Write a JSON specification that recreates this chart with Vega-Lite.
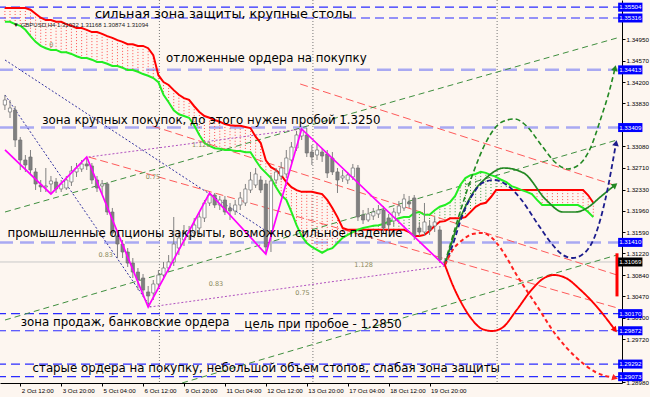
{
  "$schema": "https://vega.github.io/schema/vega-lite/v6.json",
  "width": 622,
  "height": 383,
  "autosize": {"type": "none"},
  "padding": {"left": 0, "top": 0, "right": 28, "bottom": 14},
  "background": "#fdf6f0",
  "config": {
    "view": {"stroke": null},
    "font": "DejaVu Sans",
    "axis": {"labelFont": "Liberation Sans", "labelColor": "#000000", "tickSize": 3, "tickColor": "#000000", "domainColor": "#000000", "grid": false, "labelFlush": false, "labelOverlap": false, "labelBound": false, "labelPadding": 1},
    "axisX": {"labelAlign": "left", "labelOffset": 1, "labelFontSize": 6.2},
    "axisY": {"labelFontSize": 6.2}
  },
  "datasets": {
    "candles": [
      {"i":-3,"o":1.33801,"h":1.33976,"l":1.33714,"c":1.33889},
      {"i":-2,"o":1.33680,"h":1.33889,"l":1.33575,"c":1.33749},
      {"i":-1,"o":1.33714,"h":1.33784,"l":1.33070,"c":1.33192},
      {"i":0,"o":1.33192,"h":1.33245,"l":1.32670,"c":1.32844},
      {"i":1,"o":1.32844,"h":1.32931,"l":1.32636,"c":1.32757},
      {"i":2,"o":1.32896,"h":1.33018,"l":1.32601,"c":1.32670},
      {"i":3,"o":1.32636,"h":1.32705,"l":1.32322,"c":1.32427},
      {"i":4,"o":1.32409,"h":1.32496,"l":1.32287,"c":1.32375},
      {"i":5,"o":1.32375,"h":1.32705,"l":1.32287,"c":1.32392},
      {"i":6,"o":1.32427,"h":1.32566,"l":1.32253,"c":1.32479},
      {"i":7,"o":1.32462,"h":1.32531,"l":1.32270,"c":1.32340},
      {"i":8,"o":1.32340,"h":1.32496,"l":1.32287,"c":1.32427},
      {"i":9,"o":1.32357,"h":1.32566,"l":1.32322,"c":1.32496},
      {"i":10,"o":1.32462,"h":1.32740,"l":1.32392,"c":1.32653},
      {"i":11,"o":1.32636,"h":1.32792,"l":1.32549,"c":1.32705},
      {"i":12,"o":1.32688,"h":1.32844,"l":1.32636,"c":1.32775},
      {"i":13,"o":1.32775,"h":1.32896,"l":1.32670,"c":1.32740},
      {"i":14,"o":1.32740,"h":1.32792,"l":1.32427,"c":1.32496},
      {"i":15,"o":1.32496,"h":1.32566,"l":1.32287,"c":1.32357},
      {"i":16,"o":1.32392,"h":1.32496,"l":1.32253,"c":1.32427},
      {"i":17,"o":1.32427,"h":1.32462,"l":1.31887,"c":1.31939},
      {"i":18,"o":1.31939,"h":1.32009,"l":1.31504,"c":1.31574},
      {"i":19,"o":1.31522,"h":1.31591,"l":1.31138,"c":1.31382},
      {"i":20,"o":1.31382,"h":1.31452,"l":1.31138,"c":1.31243},
      {"i":21,"o":1.31243,"h":1.31312,"l":1.30982,"c":1.31051},
      {"i":22,"o":1.31051,"h":1.31138,"l":1.30790,"c":1.30894},
      {"i":23,"o":1.30894,"h":1.30964,"l":1.30581,"c":1.30755},
      {"i":24,"o":1.30790,"h":1.30860,"l":1.30460,"c":1.30581},
      {"i":25,"o":1.30547,"h":1.30651,"l":1.30285,"c":1.30477},
      {"i":26,"o":1.30529,"h":1.30755,"l":1.30407,"c":1.30686},
      {"i":27,"o":1.30686,"h":1.30929,"l":1.30616,"c":1.30842},
      {"i":28,"o":1.30842,"h":1.31069,"l":1.30755,"c":1.30964},
      {"i":29,"o":1.30964,"h":1.31190,"l":1.30894,"c":1.31069},
      {"i":30,"o":1.31069,"h":1.31852,"l":1.30999,"c":1.31382},
      {"i":31,"o":1.31312,"h":1.31626,"l":1.31190,"c":1.31487},
      {"i":32,"o":1.31452,"h":1.31713,"l":1.31347,"c":1.31591},
      {"i":33,"o":1.31522,"h":1.31696,"l":1.31452,"c":1.31574},
      {"i":34,"o":1.31574,"h":1.31835,"l":1.31487,"c":1.31713},
      {"i":35,"o":1.31661,"h":1.31939,"l":1.31539,"c":1.31852},
      {"i":36,"o":1.31835,"h":1.32148,"l":1.31765,"c":1.32096},
      {"i":37,"o":1.32096,"h":1.32270,"l":1.32044,"c":1.32235},
      {"i":38,"o":1.32235,"h":1.32270,"l":1.32009,"c":1.32061},
      {"i":39,"o":1.32061,"h":1.32218,"l":1.31974,"c":1.32148},
      {"i":40,"o":1.32148,"h":1.32218,"l":1.31887,"c":1.31939},
      {"i":41,"o":1.32009,"h":1.32096,"l":1.31800,"c":1.31957},
      {"i":42,"o":1.31957,"h":1.32148,"l":1.31887,"c":1.32061},
      {"i":43,"o":1.32061,"h":1.32287,"l":1.31974,"c":1.32183},
      {"i":44,"o":1.32096,"h":1.32427,"l":1.32044,"c":1.32340},
      {"i":45,"o":1.32322,"h":1.32636,"l":1.32270,"c":1.32496},
      {"i":46,"o":1.32409,"h":1.32705,"l":1.32357,"c":1.32601},
      {"i":47,"o":1.32496,"h":1.32566,"l":1.32270,"c":1.32322},
      {"i":48,"o":1.32427,"h":1.32496,"l":1.31208,"c":1.31330},
      {"i":49,"o":1.31574,"h":1.32583,"l":1.31243,"c":1.32479},
      {"i":50,"o":1.32496,"h":1.32705,"l":1.32427,"c":1.32636},
      {"i":51,"o":1.32566,"h":1.32810,"l":1.32496,"c":1.32705},
      {"i":52,"o":1.32601,"h":1.33018,"l":1.32531,"c":1.32879},
      {"i":53,"o":1.32844,"h":1.33157,"l":1.32792,"c":1.33070},
      {"i":54,"o":1.33053,"h":1.33349,"l":1.33001,"c":1.33280},
      {"i":55,"o":1.33262,"h":1.33384,"l":1.33192,"c":1.33367},
      {"i":56,"o":1.33280,"h":1.33401,"l":1.32896,"c":1.32966},
      {"i":57,"o":1.32983,"h":1.33105,"l":1.32757,"c":1.32896},
      {"i":58,"o":1.32931,"h":1.33139,"l":1.32844,"c":1.33018},
      {"i":59,"o":1.32983,"h":1.33053,"l":1.32810,"c":1.32914},
      {"i":60,"o":1.32949,"h":1.33018,"l":1.32531,"c":1.32618},
      {"i":61,"o":1.32879,"h":1.32983,"l":1.32583,"c":1.32636},
      {"i":62,"o":1.32636,"h":1.32705,"l":1.32270,"c":1.32496},
      {"i":63,"o":1.32531,"h":1.32670,"l":1.32462,"c":1.32566},
      {"i":64,"o":1.32496,"h":1.32636,"l":1.32427,"c":1.32583},
      {"i":65,"o":1.32549,"h":1.32775,"l":1.32496,"c":1.32705},
      {"i":66,"o":1.32705,"h":1.32757,"l":1.31783,"c":1.31852},
      {"i":67,"o":1.31887,"h":1.31974,"l":1.31730,"c":1.31800},
      {"i":68,"o":1.31800,"h":1.32009,"l":1.31765,"c":1.31905},
      {"i":69,"o":1.31870,"h":1.32009,"l":1.31800,"c":1.31939},
      {"i":70,"o":1.31905,"h":1.32061,"l":1.31835,"c":1.31974},
      {"i":71,"o":1.31974,"h":1.32044,"l":1.31556,"c":1.31661},
      {"i":72,"o":1.31835,"h":1.31905,"l":1.31626,"c":1.31713},
      {"i":73,"o":1.31783,"h":1.32009,"l":1.31696,"c":1.31939},
      {"i":74,"o":1.31922,"h":1.32131,"l":1.31870,"c":1.32044},
      {"i":75,"o":1.32009,"h":1.32253,"l":1.31957,"c":1.32166},
      {"i":76,"o":1.32114,"h":1.32218,"l":1.32009,"c":1.32079},
      {"i":77,"o":1.32183,"h":1.32235,"l":1.31452,"c":1.31522},
      {"i":78,"o":1.31661,"h":1.31765,"l":1.31522,"c":1.31591},
      {"i":79,"o":1.31591,"h":1.32096,"l":1.31522,"c":1.31765},
      {"i":80,"o":1.31696,"h":1.31800,"l":1.31539,"c":1.31626},
      {"i":81,"o":1.31696,"h":1.31852,"l":1.31591,"c":1.31765},
      {"i":82,"o":1.31626,"h":1.31696,"l":1.31051,"c":1.31104},
      {"i":83,"o":1.31051,"h":1.31138,"l":1.30999,"c":1.31069}
    ],
    "ichi": [
      {"i":-3,"r":1.3549,"g":1.3525},{"i":-2,"r":1.3549,"g":1.3525},{"i":-1,"r":1.3549,"g":1.3521},
      {"i":0,"r":1.3549,"g":1.3518},{"i":1,"r":1.3549,"g":1.3511},{"i":2,"r":1.3546,"g":1.3500},
      {"i":3,"r":1.3539,"g":1.3490},{"i":4,"r":1.3532,"g":1.3483},{"i":5,"r":1.3528,"g":1.3479},
      {"i":6,"r":1.3528,"g":1.3476},{"i":7,"r":1.3525,"g":1.3476},{"i":8,"r":1.3525,"g":1.3472},
      {"i":9,"r":1.3521,"g":1.3472},{"i":10,"r":1.3518,"g":1.3469},{"i":11,"r":1.3514,"g":1.3465},
      {"i":12,"r":1.3514,"g":1.3462},{"i":13,"r":1.3511,"g":1.3462},{"i":14,"r":1.3507,"g":1.3459},
      {"i":15,"r":1.3507,"g":1.3455},{"i":16,"r":1.3504,"g":1.3455},{"i":17,"r":1.3500,"g":1.3452},
      {"i":18,"r":1.3497,"g":1.3448},{"i":19,"r":1.3493,"g":1.3448},{"i":20,"r":1.3490,"g":1.3445},
      {"i":21,"r":1.3486,"g":1.3441},{"i":22,"r":1.3486,"g":1.3441},{"i":23,"r":1.3483,"g":1.3438},
      {"i":24,"r":1.3483,"g":1.3434},{"i":25,"r":1.3479,"g":1.3431},{"i":26,"r":1.3467,"g":1.3427},
      {"i":27,"r":1.3432,"g":1.3420},{"i":28,"r":1.3420,"g":1.3398},{"i":29,"r":1.3415,"g":1.3385},
      {"i":30,"r":1.3406,"g":1.3371},{"i":31,"r":1.3398,"g":1.3364},{"i":32,"r":1.3392,"g":1.3361},
      {"i":33,"r":1.3389,"g":1.3358},{"i":34,"r":1.3378,"g":1.3345},{"i":35,"r":1.3368,"g":1.3328},
      {"i":36,"r":1.3361,"g":1.3314},{"i":37,"r":1.3358,"g":1.3309},{"i":38,"r":1.3354,"g":1.3305},
      {"i":39,"r":1.3351,"g":1.3304},{"i":40,"r":1.3347,"g":1.3302},{"i":41,"r":1.3345,"g":1.3302},
      {"i":42,"r":1.3344,"g":1.3300},{"i":43,"r":1.3344,"g":1.3300},{"i":44,"r":1.3342,"g":1.3298},
      {"i":45,"r":1.3340,"g":1.3298},{"i":46,"r":1.3325,"g":1.3284},{"i":47,"r":1.3314,"g":1.3271},
      {"i":48,"r":1.3284,"g":1.3262},{"i":49,"r":1.3272,"g":1.3253},{"i":50,"r":1.3267,"g":1.3237},
      {"i":51,"r":1.3258,"g":1.3223},{"i":52,"r":1.3246,"g":1.3215},{"i":53,"r":1.3237,"g":1.3194},
      {"i":54,"r":1.3232,"g":1.3171},{"i":55,"r":1.3229,"g":1.3152},{"i":56,"r":1.3229,"g":1.3140},
      {"i":57,"r":1.3229,"g":1.3133},{"i":58,"r":1.3227,"g":1.3128},{"i":59,"r":1.3225,"g":1.3123},
      {"i":60,"r":1.3215,"g":1.3128},{"i":61,"r":1.3201,"g":1.3131},{"i":62,"r":1.3185,"g":1.3140},
      {"i":63,"r":1.3166,"g":1.3149},{"i":64,"r":1.3163,"g":1.3154},{"i":65,"r":1.3163,"g":1.3159},
      {"i":66,"r":1.3163,"g":1.3163},{"i":67,"r":1.3163,"g":1.3166},{"i":68,"r":1.3163,"g":1.3168},
      {"i":69,"r":1.3163,"g":1.3170},{"i":70,"r":1.3163,"g":1.3171},{"i":71,"r":1.3163,"g":1.3173},
      {"i":72,"r":1.3163,"g":1.3177},{"i":73,"r":1.3163,"g":1.3180},{"i":74,"r":1.3163,"g":1.3183},
      {"i":75,"r":1.3163,"g":1.3185},{"i":76,"r":1.3159,"g":1.3185},{"i":77,"r":1.3152,"g":1.3192},
      {"i":78,"r":1.3152,"g":1.3194},{"i":79,"r":1.3154,"g":1.3189},{"i":80,"r":1.3161,"g":1.3189},
      {"i":81,"r":1.3170,"g":1.3197},{"i":82,"r":1.3177,"g":1.3203},{"i":83,"r":1.3178,"g":1.3206},
      {"i":84,"r":1.3183,"g":1.3211},{"i":85,"r":1.3183,"g":1.3222},{"i":86,"r":1.3183,"g":1.3241},
      {"i":87,"r":1.3185,"g":1.3253},{"i":88,"r":1.3194,"g":1.3258},{"i":89,"r":1.3203,"g":1.3260},
      {"i":90,"r":1.3208,"g":1.3264},{"i":91,"r":1.3210,"g":1.3262},{"i":92,"r":1.3220,"g":1.3258},
      {"i":93,"r":1.3232,"g":1.3255},{"i":94,"r":1.3232,"g":1.3250},{"i":95,"r":1.3232,"g":1.3246},
      {"i":96,"r":1.3232,"g":1.3239},{"i":97,"r":1.3232,"g":1.3236},{"i":98,"r":1.3232,"g":1.3232},
      {"i":99,"r":1.3232,"g":1.3229},{"i":100,"r":1.3232,"g":1.3225},{"i":101,"r":1.3232,"g":1.3215},
      {"i":102,"r":1.3232,"g":1.3206},{"i":103,"r":1.3232,"g":1.3206},{"i":104,"r":1.3232,"g":1.3206},
      {"i":105,"r":1.3232,"g":1.3206},{"i":106,"r":1.3232,"g":1.3206},{"i":107,"r":1.3232,"g":1.3206},
      {"i":108,"r":1.3232,"g":1.3206},{"i":109,"r":1.3232,"g":1.3206},{"i":110,"r":1.3232,"g":1.3201},
      {"i":111,"r":1.3223,"g":1.3194},{"i":112,"r":1.3210,"g":1.3185}
    ],
    "zig": [
      {"i":-2.98,"p":1.3302},{"i":6,"p":1.32253},{"i":13,"p":1.32896},{"i":25,"p":1.30285},
      {"i":37,"p":1.3227},{"i":48,"p":1.31208},{"i":55,"p":1.33384},{"i":83,"p":1.30999}
    ],
    "levels": [
      {"p":1.35504,"t":"weak"},{"p":1.35316,"t":"weak"},{"p":1.34413,"t":"strong"},
      {"p":1.33409,"t":"strong"},{"p":1.31410,"t":"strong"},{"p":1.30170,"t":"weak"},
      {"p":1.29872,"t":"weak"},{"p":1.29292,"t":"weak"},{"p":1.29073,"t":"weak"}
    ],
    "trendRed": [
      {"i1":13.37,"p1":1.32896,"i2":116.73,"p2":1.30268},
      {"i1":54.71,"p1":1.34167,"i2":116.63,"p2":1.32392},
      {"i1":25.87,"p1":1.33436,"i2":116.63,"p2":1.30842}
    ],
    "trendGreen": [
      {"i1":-2.98,"p1":1.31939,"i2":116.63,"p2":1.34968},
      {"i1":-2.98,"p1":1.30059,"i2":116.63,"p2":1.33192},
      {"i1":31.63,"p1":1.28963,"i2":116.63,"p2":1.31191}
    ],
    "trendNavy": [
      {"i1":-2.98,"p1":1.33976,"i2":25.48,"p2":1.30285},
      {"i1":-2.98,"p1":1.34585,"i2":48.94,"p2":1.31556}
    ],
    "trendPurple": [
      {"i1":13.37,"p1":1.32896,"i2":55.1,"p2":1.33384},
      {"i1":25.29,"p1":1.30285,"i2":83,"p2":1.30999}
    ],
    "proj": [
      {"s":"A","i":83,"p":1.31051},{"s":"A","i":85.48,"p":1.318},{"s":"A","i":88.37,"p":1.32583},
      {"s":"A","i":91.25,"p":1.33192},{"s":"A","i":94.13,"p":1.33506},{"s":"A","i":96.63,"p":1.33558},
      {"s":"A","i":98.94,"p":1.33436},{"s":"A","i":101.83,"p":1.33105},{"s":"A","i":104.71,"p":1.32792},
      {"s":"A","i":107.02,"p":1.32688},{"s":"A","i":109.13,"p":1.32757},{"s":"A","i":111.44,"p":1.33053},
      {"s":"A","i":113.37,"p":1.33541},{"s":"A","i":115.29,"p":1.34097},{"s":"A","i":116.25,"p":1.34445},
      {"s":"B","i":83,"p":1.31017},{"s":"B","i":85.48,"p":1.31713},{"s":"B","i":87.98,"p":1.322},
      {"s":"B","i":91.25,"p":1.32548},{"s":"B","i":94.52,"p":1.32705},{"s":"B","i":98.37,"p":1.32618},
      {"s":"B","i":102.79,"p":1.32148},{"s":"B","i":106.06,"p":1.31939},{"s":"B","i":108.56,"p":1.31939},
      {"s":"B","i":111.06,"p":1.32026},{"s":"B","i":113.37,"p":1.322},{"s":"B","i":116.25,"p":1.32409},
      {"s":"C","i":83,"p":1.31017},{"s":"C","i":84.52,"p":1.31365},{"s":"C","i":86.44,"p":1.31887},
      {"s":"C","i":88.37,"p":1.32235},{"s":"C","i":90.29,"p":1.32444},{"s":"C","i":92.6,"p":1.32496},
      {"s":"C","i":95.1,"p":1.32409},{"s":"C","i":97.98,"p":1.32148},{"s":"C","i":100.87,"p":1.31765},
      {"s":"C","i":103.75,"p":1.314},{"s":"C","i":106.06,"p":1.31191},{"s":"C","i":107.98,"p":1.31138},
      {"s":"C","i":110.48,"p":1.31243},{"s":"C","i":112.4,"p":1.31539},{"s":"C","i":114.33,"p":1.32148},
      {"s":"C","i":116.44,"p":1.3314},
      {"s":"D","i":83,"p":1.31017},{"s":"D","i":84.52,"p":1.30668},{"s":"D","i":86.44,"p":1.30321},
      {"s":"D","i":88.37,"p":1.30059},{"s":"D","i":90.29,"p":1.29902},{"s":"D","i":92.21,"p":1.29868},
      {"s":"D","i":94.13,"p":1.2992},{"s":"D","i":97.02,"p":1.30233},{"s":"D","i":99.9,"p":1.30581},
      {"s":"D","i":102.4,"p":1.3079},{"s":"D","i":104.33,"p":1.30842},{"s":"D","i":106.63,"p":1.3079},
      {"s":"D","i":109.52,"p":1.30581},{"s":"D","i":112.4,"p":1.3032},{"s":"D","i":116.25,"p":1.29885},
      {"s":"E","i":83,"p":1.31017},{"s":"E","i":84.52,"p":1.31278},{"s":"E","i":86.44,"p":1.31452},
      {"s":"E","i":88.37,"p":1.31556},{"s":"E","i":90.29,"p":1.31574},{"s":"E","i":92.21,"p":1.31487},
      {"s":"E","i":94.13,"p":1.31278},{"s":"E","i":97.02,"p":1.30842},{"s":"E","i":100.87,"p":1.3032},
      {"s":"E","i":104.71,"p":1.29798},{"s":"E","i":108.56,"p":1.29415},{"s":"E","i":112.4,"p":1.29154},
      {"s":"E","i":116.25,"p":1.2905}
    ],
    "notes": [
      {"text":"сильная зона защиты, крупные столы","i":14.6,"p":1.35385,"big":true},
      {"text":"отложенные ордера на покупку","i":28.5,"p":1.34619,"big":false},
      {"text":"зона крупных покупок, до этого нужен пробой 1.3250","i":4.3,"p":1.33542,"big":false},
      {"text":"промышленные опционы закрыты, возможно сильное падение","i":-2.5,"p":1.31573,"big":false},
      {"text":"зона продаж, банковские ордера","i":0.1,"p":1.30025,"big":false},
      {"text":"цель при пробое - 1.2850","i":43.8,"p":1.2999,"big":false},
      {"text":"старые ордера на покупку, небольшой объем стопов, слабая зона защиты","i":2.4,"p":1.29224,"big":false}
    ],
    "fib": [
      {"text":"0","i":5.67,"p":1.34846},
      {"text":"1.128","i":33.56,"p":1.33105},
      {"text":"0.75","i":24.52,"p":1.32548},
      {"text":"0.83","i":15.29,"p":1.31191},
      {"text":"0.83","i":36.83,"p":1.30686},
      {"text":"1.128","i":65.29,"p":1.31017},
      {"text":"0.75","i":53.75,"p":1.30529}
    ]
  },
  "layer": [
    {
      "data": {"values": [{"i": 27.2}, {"i": 57.2}, {"i": 93.2}]},
      "mark": {"type": "rule", "color": "#777777", "strokeDash": [1, 2], "strokeWidth": 1},
      "encoding": {"x": {"field": "i", "type": "quantitative", "scale": {"domain": [-2.98, 116.63]}, "axis": {"orient": "bottom", "values": [0, 8, 16, 24, 32, 40, 48, 56, 64, 72, 80], "labelExpr": "['2 Oct 12:00','3 Oct 20:00','5 Oct 04:00','6 Oct 12:00','9 Oct 20:00','11 Oct 04:00','12 Oct 12:00','13 Oct 20:00','17 Oct 04:00','18 Oct 12:00','19 Oct 20:00'][round(datum.value/8)]", "title": null}}}
    },
    {
      "data": {"values": [{"price": 1.31069}]},
      "mark": {"type": "rule", "color": "#c8c8c8", "strokeWidth": 1},
      "encoding": {"y": {"field": "price", "type": "quantitative", "scale": {"domain": [1.289626, 1.356291]}, "axis": {"orient": "right", "values": [1.3495, 1.3457, 1.342, 1.3383, 1.3308, 1.3271, 1.3233, 1.3196, 1.3159, 1.3122, 1.3084, 1.3047, 1.301, 1.2972, 1.2898], "format": ".5f", "title": null}}}
    },
    {
      "data": {"name": "levels"},
      "transform": [{"filter": "datum.t == 'weak'"}],
      "mark": {"type": "rule", "color": "#2b2bff", "strokeDash": [9, 5], "strokeWidth": 1.2},
      "encoding": {"y": {"field": "p", "type": "quantitative", "scale": {"domain": [1.289626, 1.356291]}, "axis": {"orient": "right", "values": [1.3495, 1.3457, 1.342, 1.3383, 1.3308, 1.3271, 1.3233, 1.3196, 1.3159, 1.3122, 1.3084, 1.3047, 1.301, 1.2972, 1.2898], "format": ".5f", "title": null}}}
    },
    {
      "data": {"name": "levels"},
      "transform": [{"filter": "datum.t == 'strong'"}],
      "mark": {"type": "rule", "color": "#a9a9f2", "strokeDash": [14, 7], "strokeWidth": 2.5},
      "encoding": {"y": {"field": "p", "type": "quantitative", "scale": {"domain": [1.289626, 1.356291]}, "axis": {"orient": "right", "values": [1.3495, 1.3457, 1.342, 1.3383, 1.3308, 1.3271, 1.3233, 1.3196, 1.3159, 1.3122, 1.3084, 1.3047, 1.301, 1.2972, 1.2898], "format": ".5f", "title": null}}}
    },
    {
      "data": {"name": "ichi"},
      "mark": {"type": "rule", "strokeDash": [1, 2], "strokeWidth": 1},
      "encoding": {
        "x": {"field": "i", "type": "quantitative", "scale": {"domain": [-2.98, 116.63]}, "axis": {"orient": "bottom", "values": [0, 8, 16, 24, 32, 40, 48, 56, 64, 72, 80], "labelExpr": "['2 Oct 12:00','3 Oct 20:00','5 Oct 04:00','6 Oct 12:00','9 Oct 20:00','11 Oct 04:00','12 Oct 12:00','13 Oct 20:00','17 Oct 04:00','18 Oct 12:00','19 Oct 20:00'][round(datum.value/8)]", "title": null}},
        "y": {"field": "r", "type": "quantitative", "scale": {"domain": [1.289626, 1.356291]}, "axis": {"orient": "right", "values": [1.3495, 1.3457, 1.342, 1.3383, 1.3308, 1.3271, 1.3233, 1.3196, 1.3159, 1.3122, 1.3084, 1.3047, 1.301, 1.2972, 1.2898], "format": ".5f", "title": null}},
        "y2": {"field": "g"},
        "color": {"condition": {"test": "datum.r > datum.g", "value": "#ff5050"}, "value": "#3c9c3c"}
      }
    },
    {
      "data": {"name": "trendRed"},
      "mark": {"type": "rule", "color": "#ff5a5a", "strokeDash": [8, 4], "strokeWidth": 1, "clip": true},
      "encoding": {
        "x": {"field": "i1", "type": "quantitative", "scale": {"domain": [-2.98, 116.63]}, "axis": {"orient": "bottom", "values": [0, 8, 16, 24, 32, 40, 48, 56, 64, 72, 80], "labelExpr": "['2 Oct 12:00','3 Oct 20:00','5 Oct 04:00','6 Oct 12:00','9 Oct 20:00','11 Oct 04:00','12 Oct 12:00','13 Oct 20:00','17 Oct 04:00','18 Oct 12:00','19 Oct 20:00'][round(datum.value/8)]", "title": null}},
        "x2": {"field": "i2"},
        "y": {"field": "p1", "type": "quantitative", "scale": {"domain": [1.289626, 1.356291]}, "axis": {"orient": "right", "values": [1.3495, 1.3457, 1.342, 1.3383, 1.3308, 1.3271, 1.3233, 1.3196, 1.3159, 1.3122, 1.3084, 1.3047, 1.301, 1.2972, 1.2898], "format": ".5f", "title": null}},
        "y2": {"field": "p2"}
      }
    },
    {
      "data": {"name": "trendGreen"},
      "mark": {"type": "rule", "color": "#3f8f3f", "strokeDash": [6, 4], "strokeWidth": 1, "clip": true},
      "encoding": {
        "x": {"field": "i1", "type": "quantitative", "scale": {"domain": [-2.98, 116.63]}, "axis": {"orient": "bottom", "values": [0, 8, 16, 24, 32, 40, 48, 56, 64, 72, 80], "labelExpr": "['2 Oct 12:00','3 Oct 20:00','5 Oct 04:00','6 Oct 12:00','9 Oct 20:00','11 Oct 04:00','12 Oct 12:00','13 Oct 20:00','17 Oct 04:00','18 Oct 12:00','19 Oct 20:00'][round(datum.value/8)]", "title": null}},
        "x2": {"field": "i2"},
        "y": {"field": "p1", "type": "quantitative", "scale": {"domain": [1.289626, 1.356291]}, "axis": {"orient": "right", "values": [1.3495, 1.3457, 1.342, 1.3383, 1.3308, 1.3271, 1.3233, 1.3196, 1.3159, 1.3122, 1.3084, 1.3047, 1.301, 1.2972, 1.2898], "format": ".5f", "title": null}},
        "y2": {"field": "p2"}
      }
    },
    {
      "data": {"name": "trendNavy"},
      "mark": {"type": "rule", "color": "#3030a0", "strokeDash": [2, 2], "strokeWidth": 1, "clip": true},
      "encoding": {
        "x": {"field": "i1", "type": "quantitative", "scale": {"domain": [-2.98, 116.63]}, "axis": {"orient": "bottom", "values": [0, 8, 16, 24, 32, 40, 48, 56, 64, 72, 80], "labelExpr": "['2 Oct 12:00','3 Oct 20:00','5 Oct 04:00','6 Oct 12:00','9 Oct 20:00','11 Oct 04:00','12 Oct 12:00','13 Oct 20:00','17 Oct 04:00','18 Oct 12:00','19 Oct 20:00'][round(datum.value/8)]", "title": null}},
        "x2": {"field": "i2"},
        "y": {"field": "p1", "type": "quantitative", "scale": {"domain": [1.289626, 1.356291]}, "axis": {"orient": "right", "values": [1.3495, 1.3457, 1.342, 1.3383, 1.3308, 1.3271, 1.3233, 1.3196, 1.3159, 1.3122, 1.3084, 1.3047, 1.301, 1.2972, 1.2898], "format": ".5f", "title": null}},
        "y2": {"field": "p2"}
      }
    },
    {
      "data": {"name": "trendPurple"},
      "mark": {"type": "rule", "color": "#b050c0", "strokeDash": [2, 2], "strokeWidth": 1, "clip": true},
      "encoding": {
        "x": {"field": "i1", "type": "quantitative", "scale": {"domain": [-2.98, 116.63]}, "axis": {"orient": "bottom", "values": [0, 8, 16, 24, 32, 40, 48, 56, 64, 72, 80], "labelExpr": "['2 Oct 12:00','3 Oct 20:00','5 Oct 04:00','6 Oct 12:00','9 Oct 20:00','11 Oct 04:00','12 Oct 12:00','13 Oct 20:00','17 Oct 04:00','18 Oct 12:00','19 Oct 20:00'][round(datum.value/8)]", "title": null}},
        "x2": {"field": "i2"},
        "y": {"field": "p1", "type": "quantitative", "scale": {"domain": [1.289626, 1.356291]}, "axis": {"orient": "right", "values": [1.3495, 1.3457, 1.342, 1.3383, 1.3308, 1.3271, 1.3233, 1.3196, 1.3159, 1.3122, 1.3084, 1.3047, 1.301, 1.2972, 1.2898], "format": ".5f", "title": null}},
        "y2": {"field": "p2"}
      }
    },
    {
      "data": {"name": "ichi"},
      "mark": {"type": "line", "color": "#ff0000", "strokeWidth": 2},
      "encoding": {
        "x": {"field": "i", "type": "quantitative", "scale": {"domain": [-2.98, 116.63]}, "axis": {"orient": "bottom", "values": [0, 8, 16, 24, 32, 40, 48, 56, 64, 72, 80], "labelExpr": "['2 Oct 12:00','3 Oct 20:00','5 Oct 04:00','6 Oct 12:00','9 Oct 20:00','11 Oct 04:00','12 Oct 12:00','13 Oct 20:00','17 Oct 04:00','18 Oct 12:00','19 Oct 20:00'][round(datum.value/8)]", "title": null}},
        "y": {"field": "r", "type": "quantitative", "scale": {"domain": [1.289626, 1.356291]}, "axis": {"orient": "right", "values": [1.3495, 1.3457, 1.342, 1.3383, 1.3308, 1.3271, 1.3233, 1.3196, 1.3159, 1.3122, 1.3084, 1.3047, 1.301, 1.2972, 1.2898], "format": ".5f", "title": null}}
      }
    },
    {
      "data": {"name": "ichi"},
      "mark": {"type": "line", "color": "#22ee22", "strokeWidth": 2},
      "encoding": {
        "x": {"field": "i", "type": "quantitative", "scale": {"domain": [-2.98, 116.63]}, "axis": {"orient": "bottom", "values": [0, 8, 16, 24, 32, 40, 48, 56, 64, 72, 80], "labelExpr": "['2 Oct 12:00','3 Oct 20:00','5 Oct 04:00','6 Oct 12:00','9 Oct 20:00','11 Oct 04:00','12 Oct 12:00','13 Oct 20:00','17 Oct 04:00','18 Oct 12:00','19 Oct 20:00'][round(datum.value/8)]", "title": null}},
        "y": {"field": "g", "type": "quantitative", "scale": {"domain": [1.289626, 1.356291]}, "axis": {"orient": "right", "values": [1.3495, 1.3457, 1.342, 1.3383, 1.3308, 1.3271, 1.3233, 1.3196, 1.3159, 1.3122, 1.3084, 1.3047, 1.301, 1.2972, 1.2898], "format": ".5f", "title": null}}
      }
    },
    {
      "data": {"name": "candles"},
      "mark": {"type": "rule", "color": "#808080", "strokeWidth": 1},
      "encoding": {
        "x": {"field": "i", "type": "quantitative", "scale": {"domain": [-2.98, 116.63]}, "axis": {"orient": "bottom", "values": [0, 8, 16, 24, 32, 40, 48, 56, 64, 72, 80], "labelExpr": "['2 Oct 12:00','3 Oct 20:00','5 Oct 04:00','6 Oct 12:00','9 Oct 20:00','11 Oct 04:00','12 Oct 12:00','13 Oct 20:00','17 Oct 04:00','18 Oct 12:00','19 Oct 20:00'][round(datum.value/8)]", "title": null}},
        "y": {"field": "l", "type": "quantitative", "scale": {"domain": [1.289626, 1.356291]}, "axis": {"orient": "right", "values": [1.3495, 1.3457, 1.342, 1.3383, 1.3308, 1.3271, 1.3233, 1.3196, 1.3159, 1.3122, 1.3084, 1.3047, 1.301, 1.2972, 1.2898], "format": ".5f", "title": null}},
        "y2": {"field": "h"}
      }
    },
    {
      "data": {"name": "candles"},
      "mark": {"type": "bar", "width": 3.2, "stroke": "#707070", "strokeWidth": 0.7},
      "encoding": {
        "x": {"field": "i", "type": "quantitative", "scale": {"domain": [-2.98, 116.63]}, "axis": {"orient": "bottom", "values": [0, 8, 16, 24, 32, 40, 48, 56, 64, 72, 80], "labelExpr": "['2 Oct 12:00','3 Oct 20:00','5 Oct 04:00','6 Oct 12:00','9 Oct 20:00','11 Oct 04:00','12 Oct 12:00','13 Oct 20:00','17 Oct 04:00','18 Oct 12:00','19 Oct 20:00'][round(datum.value/8)]", "title": null}},
        "y": {"field": "o", "type": "quantitative", "scale": {"domain": [1.289626, 1.356291]}, "axis": {"orient": "right", "values": [1.3495, 1.3457, 1.342, 1.3383, 1.3308, 1.3271, 1.3233, 1.3196, 1.3159, 1.3122, 1.3084, 1.3047, 1.301, 1.2972, 1.2898], "format": ".5f", "title": null}},
        "y2": {"field": "c"},
        "fill": {"condition": {"test": "datum.c > datum.o", "value": "#ffffff"}, "value": "#808080"}
      }
    },
    {
      "data": {"name": "zig"},
      "mark": {"type": "line", "color": "#ff00ff", "strokeWidth": 1.7},
      "encoding": {
        "x": {"field": "i", "type": "quantitative", "scale": {"domain": [-2.98, 116.63]}, "axis": {"orient": "bottom", "values": [0, 8, 16, 24, 32, 40, 48, 56, 64, 72, 80], "labelExpr": "['2 Oct 12:00','3 Oct 20:00','5 Oct 04:00','6 Oct 12:00','9 Oct 20:00','11 Oct 04:00','12 Oct 12:00','13 Oct 20:00','17 Oct 04:00','18 Oct 12:00','19 Oct 20:00'][round(datum.value/8)]", "title": null}},
        "y": {"field": "p", "type": "quantitative", "scale": {"domain": [1.289626, 1.356291]}, "axis": {"orient": "right", "values": [1.3495, 1.3457, 1.342, 1.3383, 1.3308, 1.3271, 1.3233, 1.3196, 1.3159, 1.3122, 1.3084, 1.3047, 1.301, 1.2972, 1.2898], "format": ".5f", "title": null}}
      }
    },
    {
      "data": {"name": "proj"},
      "mark": {"type": "line", "interpolate": "monotone", "clip": true},
      "encoding": {
        "x": {"field": "i", "type": "quantitative", "scale": {"domain": [-2.98, 116.63]}, "axis": {"orient": "bottom", "values": [0, 8, 16, 24, 32, 40, 48, 56, 64, 72, 80], "labelExpr": "['2 Oct 12:00','3 Oct 20:00','5 Oct 04:00','6 Oct 12:00','9 Oct 20:00','11 Oct 04:00','12 Oct 12:00','13 Oct 20:00','17 Oct 04:00','18 Oct 12:00','19 Oct 20:00'][round(datum.value/8)]", "title": null}},
        "y": {"field": "p", "type": "quantitative", "scale": {"domain": [1.289626, 1.356291]}, "axis": {"orient": "right", "values": [1.3495, 1.3457, 1.342, 1.3383, 1.3308, 1.3271, 1.3233, 1.3196, 1.3159, 1.3122, 1.3084, 1.3047, 1.301, 1.2972, 1.2898], "format": ".5f", "title": null}},
        "color": {"field": "s", "type": "nominal", "scale": {"domain": ["A", "B", "C", "D", "E"], "range": ["#228822", "#228822", "#1c1c8c", "#ff0000", "#ff2020"]}, "legend": null},
        "strokeDash": {"field": "s", "type": "nominal", "scale": {"domain": ["A", "B", "C", "D", "E"], "range": [[5, 3], [1, 0], [5, 3], [1, 0], [4, 3]]}, "legend": null},
        "strokeWidth": {"field": "s", "type": "nominal", "scale": {"domain": ["A", "B", "C", "D", "E"], "range": [1.6, 2, 1.6, 1.5, 1.2]}, "legend": null}
      }
    },
    {
      "data": {"name": "proj"},
      "transform": [{"filter": "datum.i > 116"}],
      "mark": {"type": "point", "shape": "triangle-up", "filled": true, "size": 45, "opacity": 1},
      "encoding": {
        "x": {"field": "i", "type": "quantitative", "scale": {"domain": [-2.98, 116.63]}, "axis": {"orient": "bottom", "values": [0, 8, 16, 24, 32, 40, 48, 56, 64, 72, 80], "labelExpr": "['2 Oct 12:00','3 Oct 20:00','5 Oct 04:00','6 Oct 12:00','9 Oct 20:00','11 Oct 04:00','12 Oct 12:00','13 Oct 20:00','17 Oct 04:00','18 Oct 12:00','19 Oct 20:00'][round(datum.value/8)]", "title": null}},
        "y": {"field": "p", "type": "quantitative", "scale": {"domain": [1.289626, 1.356291]}, "axis": {"orient": "right", "values": [1.3495, 1.3457, 1.342, 1.3383, 1.3308, 1.3271, 1.3233, 1.3196, 1.3159, 1.3122, 1.3084, 1.3047, 1.301, 1.2972, 1.2898], "format": ".5f", "title": null}},
        "color": {"field": "s", "type": "nominal", "scale": {"domain": ["A", "B", "C", "D", "E"], "range": ["#228822", "#228822", "#1c1c8c", "#ff0000", "#ff2020"]}, "legend": null},
        "angle": {"condition": [{"test": "datum.s == 'A'", "value": 14}, {"test": "datum.s == 'B'", "value": 51}, {"test": "datum.s == 'C'", "value": 11}, {"test": "datum.s == 'D'", "value": 141}], "value": 107}
      }
    },
    {
      "data": {"name": "notes"},
      "mark": {"type": "text", "align": "left", "baseline": "middle", "font": "DejaVu Sans", "color": "#000000"},
      "encoding": {
        "x": {"field": "i", "type": "quantitative", "scale": {"domain": [-2.98, 116.63]}, "axis": {"orient": "bottom", "values": [0, 8, 16, 24, 32, 40, 48, 56, 64, 72, 80], "labelExpr": "['2 Oct 12:00','3 Oct 20:00','5 Oct 04:00','6 Oct 12:00','9 Oct 20:00','11 Oct 04:00','12 Oct 12:00','13 Oct 20:00','17 Oct 04:00','18 Oct 12:00','19 Oct 20:00'][round(datum.value/8)]", "title": null}},
        "y": {"field": "p", "type": "quantitative", "scale": {"domain": [1.289626, 1.356291]}, "axis": {"orient": "right", "values": [1.3495, 1.3457, 1.342, 1.3383, 1.3308, 1.3271, 1.3233, 1.3196, 1.3159, 1.3122, 1.3084, 1.3047, 1.301, 1.2972, 1.2898], "format": ".5f", "title": null}},
        "text": {"field": "text"},
        "size": {"condition": {"test": "datum.big", "value": 12.8}, "value": 11.8}
      }
    },
    {
      "data": {"name": "fib"},
      "mark": {"type": "text", "align": "left", "baseline": "middle", "fontSize": 6.5, "color": "#8a8a5a"},
      "encoding": {
        "x": {"field": "i", "type": "quantitative", "scale": {"domain": [-2.98, 116.63]}, "axis": {"orient": "bottom", "values": [0, 8, 16, 24, 32, 40, 48, 56, 64, 72, 80], "labelExpr": "['2 Oct 12:00','3 Oct 20:00','5 Oct 04:00','6 Oct 12:00','9 Oct 20:00','11 Oct 04:00','12 Oct 12:00','13 Oct 20:00','17 Oct 04:00','18 Oct 12:00','19 Oct 20:00'][round(datum.value/8)]", "title": null}},
        "y": {"field": "p", "type": "quantitative", "scale": {"domain": [1.289626, 1.356291]}, "axis": {"orient": "right", "values": [1.3495, 1.3457, 1.342, 1.3383, 1.3308, 1.3271, 1.3233, 1.3196, 1.3159, 1.3122, 1.3084, 1.3047, 1.301, 1.2972, 1.2898], "format": ".5f", "title": null}},
        "text": {"field": "text"}
      }
    },
    {
      "data": {"values": [{"text": "▼  GBPUSD,H4  1.31032 1.31168 1.30874 1.31094", "i": -1.4, "p": 1.35194}]},
      "mark": {"type": "text", "align": "left", "baseline": "middle", "fontSize": 6, "font": "Liberation Sans", "color": "#202020"},
      "encoding": {
        "x": {"field": "i", "type": "quantitative", "scale": {"domain": [-2.98, 116.63]}, "axis": {"orient": "bottom", "values": [0, 8, 16, 24, 32, 40, 48, 56, 64, 72, 80], "labelExpr": "['2 Oct 12:00','3 Oct 20:00','5 Oct 04:00','6 Oct 12:00','9 Oct 20:00','11 Oct 04:00','12 Oct 12:00','13 Oct 20:00','17 Oct 04:00','18 Oct 12:00','19 Oct 20:00'][round(datum.value/8)]", "title": null}},
        "y": {"field": "p", "type": "quantitative", "scale": {"domain": [1.289626, 1.356291]}, "axis": {"orient": "right", "values": [1.3495, 1.3457, 1.342, 1.3383, 1.3308, 1.3271, 1.3233, 1.3196, 1.3159, 1.3122, 1.3084, 1.3047, 1.301, 1.2972, 1.2898], "format": ".5f", "title": null}},
        "text": {"field": "text"}
      }
    },
    {
      "data": {"values": [{"top": 1.3122, "bottom": 1.3047}]},
      "mark": {"type": "rule", "color": "#ff0000", "strokeWidth": 3},
      "encoding": {
        "x": {"datum": 116.63, "type": "quantitative", "scale": {"domain": [-2.98, 116.63]}, "axis": {"orient": "bottom", "values": [0, 8, 16, 24, 32, 40, 48, 56, 64, 72, 80], "labelExpr": "['2 Oct 12:00','3 Oct 20:00','5 Oct 04:00','6 Oct 12:00','9 Oct 20:00','11 Oct 04:00','12 Oct 12:00','13 Oct 20:00','17 Oct 04:00','18 Oct 12:00','19 Oct 20:00'][round(datum.value/8)]", "title": null}},
        "y": {"field": "top", "type": "quantitative", "scale": {"domain": [1.289626, 1.356291]}, "axis": {"orient": "right", "values": [1.3495, 1.3457, 1.342, 1.3383, 1.3308, 1.3271, 1.3233, 1.3196, 1.3159, 1.3122, 1.3084, 1.3047, 1.301, 1.2972, 1.2898], "format": ".5f", "title": null}},
        "y2": {"field": "bottom"}
      }
    },
    {
      "data": {"name": "levels"},
      "mark": {"type": "rule", "color": "#0000ff", "strokeWidth": 9},
      "encoding": {
        "x": {"datum": 116.85, "type": "quantitative", "scale": {"domain": [-2.98, 116.63]}, "axis": {"orient": "bottom", "values": [0, 8, 16, 24, 32, 40, 48, 56, 64, 72, 80], "labelExpr": "['2 Oct 12:00','3 Oct 20:00','5 Oct 04:00','6 Oct 12:00','9 Oct 20:00','11 Oct 04:00','12 Oct 12:00','13 Oct 20:00','17 Oct 04:00','18 Oct 12:00','19 Oct 20:00'][round(datum.value/8)]", "title": null}},
        "x2": {"datum": 121.6},
        "y": {"field": "p", "type": "quantitative", "scale": {"domain": [1.289626, 1.356291]}, "axis": {"orient": "right", "values": [1.3495, 1.3457, 1.342, 1.3383, 1.3308, 1.3271, 1.3233, 1.3196, 1.3159, 1.3122, 1.3084, 1.3047, 1.301, 1.2972, 1.2898], "format": ".5f", "title": null}}
      }
    },
    {
      "data": {"name": "levels"},
      "mark": {"type": "text", "align": "left", "baseline": "middle", "fontSize": 6.2, "font": "Liberation Sans", "color": "#ffffff", "dx": 1},
      "encoding": {
        "x": {"datum": 116.85, "type": "quantitative", "scale": {"domain": [-2.98, 116.63]}, "axis": {"orient": "bottom", "values": [0, 8, 16, 24, 32, 40, 48, 56, 64, 72, 80], "labelExpr": "['2 Oct 12:00','3 Oct 20:00','5 Oct 04:00','6 Oct 12:00','9 Oct 20:00','11 Oct 04:00','12 Oct 12:00','13 Oct 20:00','17 Oct 04:00','18 Oct 12:00','19 Oct 20:00'][round(datum.value/8)]", "title": null}},
        "y": {"field": "p", "type": "quantitative", "scale": {"domain": [1.289626, 1.356291]}, "axis": {"orient": "right", "values": [1.3495, 1.3457, 1.342, 1.3383, 1.3308, 1.3271, 1.3233, 1.3196, 1.3159, 1.3122, 1.3084, 1.3047, 1.301, 1.2972, 1.2898], "format": ".5f", "title": null}},
        "text": {"field": "p", "type": "quantitative", "format": ".5f"}
      }
    },
    {
      "data": {"values": [{"price": 1.31069}]},
      "mark": {"type": "rule", "color": "#000000", "strokeWidth": 9},
      "encoding": {
        "x": {"datum": 116.85, "type": "quantitative", "scale": {"domain": [-2.98, 116.63]}, "axis": {"orient": "bottom", "values": [0, 8, 16, 24, 32, 40, 48, 56, 64, 72, 80], "labelExpr": "['2 Oct 12:00','3 Oct 20:00','5 Oct 04:00','6 Oct 12:00','9 Oct 20:00','11 Oct 04:00','12 Oct 12:00','13 Oct 20:00','17 Oct 04:00','18 Oct 12:00','19 Oct 20:00'][round(datum.value/8)]", "title": null}},
        "x2": {"datum": 121.6},
        "y": {"field": "price", "type": "quantitative", "scale": {"domain": [1.289626, 1.356291]}, "axis": {"orient": "right", "values": [1.3495, 1.3457, 1.342, 1.3383, 1.3308, 1.3271, 1.3233, 1.3196, 1.3159, 1.3122, 1.3084, 1.3047, 1.301, 1.2972, 1.2898], "format": ".5f", "title": null}}
      }
    },
    {
      "data": {"values": [{"price": 1.31069}]},
      "mark": {"type": "text", "align": "left", "baseline": "middle", "fontSize": 6.2, "font": "Liberation Sans", "color": "#ffffff", "dx": 1},
      "encoding": {
        "x": {"datum": 116.85, "type": "quantitative", "scale": {"domain": [-2.98, 116.63]}, "axis": {"orient": "bottom", "values": [0, 8, 16, 24, 32, 40, 48, 56, 64, 72, 80], "labelExpr": "['2 Oct 12:00','3 Oct 20:00','5 Oct 04:00','6 Oct 12:00','9 Oct 20:00','11 Oct 04:00','12 Oct 12:00','13 Oct 20:00','17 Oct 04:00','18 Oct 12:00','19 Oct 20:00'][round(datum.value/8)]", "title": null}},
        "y": {"field": "price", "type": "quantitative", "scale": {"domain": [1.289626, 1.356291]}, "axis": {"orient": "right", "values": [1.3495, 1.3457, 1.342, 1.3383, 1.3308, 1.3271, 1.3233, 1.3196, 1.3159, 1.3122, 1.3084, 1.3047, 1.301, 1.2972, 1.2898], "format": ".5f", "title": null}},
        "text": {"field": "price", "type": "quantitative", "format": ".5f"}
      }
    }
  ]
}
